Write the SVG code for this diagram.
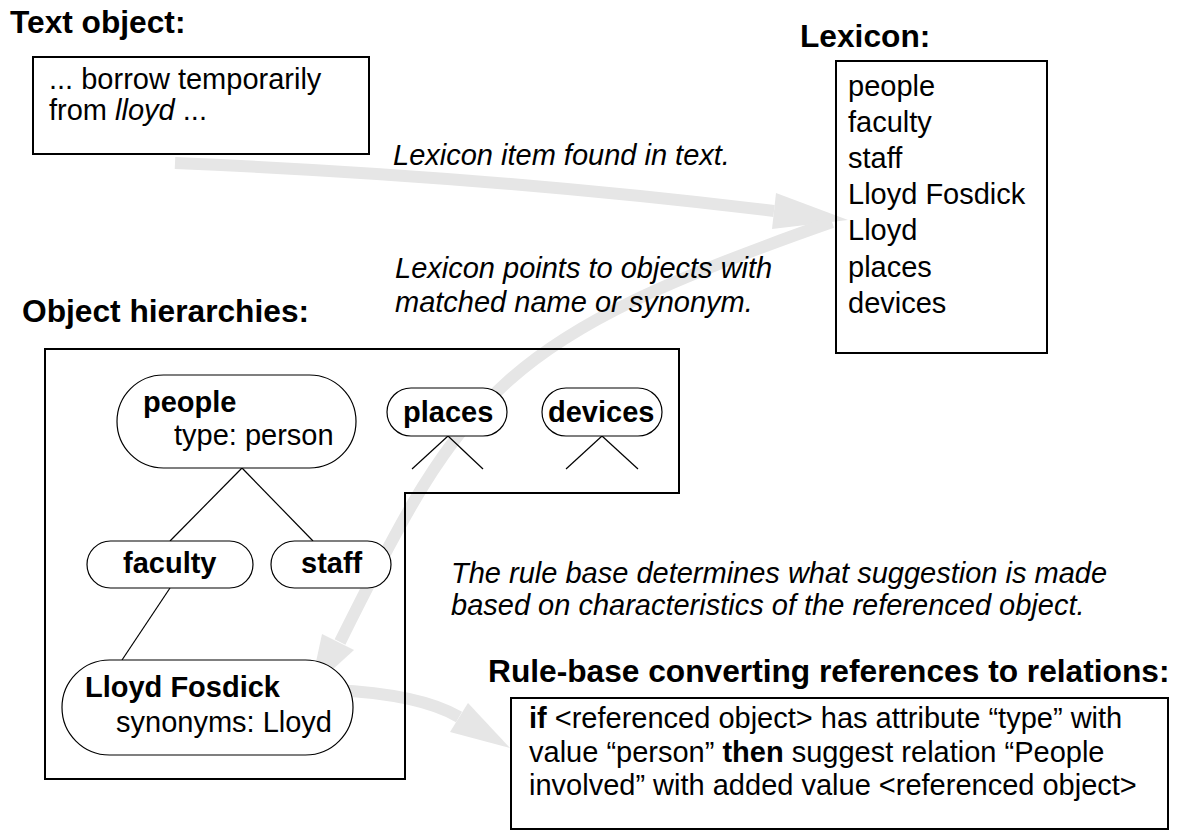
<svg xmlns="http://www.w3.org/2000/svg" width="1180" height="833" viewBox="0 0 1180 833">
<style>
text{font-family:"Liberation Sans",Arial,sans-serif;fill:#000}
.h{font-size:31.7px;font-weight:bold}
.t{font-size:29px}
.i{font-size:29px;font-style:italic}
.nb{font-size:29px;font-weight:bold}
.box{fill:none;stroke:#000;stroke-width:2}
.node{fill:#fff;stroke:#000;stroke-width:1.2}
.ln{stroke:#000;stroke-width:1.2;fill:none}
.arr{fill:none;stroke:#e6e6e6;stroke-width:12}
.ah{fill:#e6e6e6}
</style>
<rect width="1180" height="833" fill="#fff"/>
<g id="connectors">
<path class="arr" d="M175,163 Q486,176 774,211"/>
<polygon class="ah" points="776,193 848,220 772,229"/>
<path class="arr" d="M832,222 C501,338 466,388 340,642"/>
<polygon class="ah" points="322,634 354,650 310,690"/>
<path class="arr" d="M333,690 Q420,694 459,717"/>
<polygon class="ah" points="468,703 510,748 450,732"/>
</g>
<g id="text-object">
<text class="h" x="10" y="33">Text object:</text>
<rect class="box" x="33" y="57" width="336" height="97"/>
<text class="t" x="49" y="89">... borrow temporarily</text>
<text class="t" x="49" y="120">from <tspan font-style="italic">lloyd</tspan> ...</text>
</g>
<g id="label-found">
<text class="i" x="393" y="165">Lexicon item found in text.</text>
</g>
<g id="lexicon">
<text class="h" x="800" y="47">Lexicon:</text>
<rect class="box" x="836" y="61" width="211" height="292"/>
<text class="t" x="848" y="96">people</text>
<text class="t" x="848" y="132">faculty</text>
<text class="t" x="848" y="168">staff</text>
<text class="t" x="848" y="204">Lloyd Fosdick</text>
<text class="t" x="848" y="240">Lloyd</text>
<text class="t" x="848" y="277">places</text>
<text class="t" x="848" y="313">devices</text>
</g>
<g id="label-points">
<text class="i" x="395" y="278">Lexicon points to objects with</text>
<text class="i" x="395" y="312">matched name or synonym.</text>
</g>
<g id="object-hierarchies">
<text class="h" x="22" y="322">Object hierarchies:</text>
<path class="box" d="M45,349 H679 V493 H405 V779 H45 Z"/>
<line class="ln" x1="242" y1="468" x2="170" y2="541"/>
<line class="ln" x1="242" y1="468" x2="313" y2="541"/>
<line class="ln" x1="170" y1="588" x2="122" y2="660"/>
<line class="ln" x1="448" y1="436" x2="412" y2="469"/>
<line class="ln" x1="448" y1="436" x2="483" y2="469"/>
<line class="ln" x1="602" y1="436" x2="566" y2="469"/>
<line class="ln" x1="602" y1="436" x2="638" y2="469"/>
</g>
<g id="node-people">
<rect class="node" x="117" y="375" width="239" height="93" rx="46.5"/>
<text class="nb" x="143" y="412">people</text>
<text class="t" x="174" y="445">type: person</text>
</g>
<g id="node-places">
<rect class="node" x="387" y="388" width="120" height="48" rx="24"/>
<text class="nb" x="403" y="422">places</text>
</g>
<g id="node-devices">
<rect class="node" x="542" y="388" width="120" height="48" rx="24"/>
<text class="nb" x="548" y="422">devices</text>
</g>
<g id="node-faculty">
<rect class="node" x="87" y="541" width="166" height="47" rx="23.5"/>
<text class="nb" x="123" y="573">faculty</text>
</g>
<g id="node-staff">
<rect class="node" x="271" y="541" width="120" height="47" rx="23.5"/>
<text class="nb" x="301" y="573">staff</text>
</g>
<g id="node-lloyd">
<rect class="node" x="62" y="660" width="291" height="95" rx="47.5"/>
<text class="nb" x="85" y="697">Lloyd Fosdick</text>
<text class="t" x="116" y="732">synonyms: Lloyd</text>
</g>
<g id="label-rule">
<text class="i" x="451" y="583">The rule base determines what suggestion is made</text>
<text class="i" x="451" y="615">based on characteristics of the referenced object.</text>
</g>
<g id="rule-base">
<text class="h" x="488" y="682">Rule-base converting references to relations:</text>
<rect class="box" x="511" y="698" width="657" height="131"/>
<text class="t" x="529" y="728"><tspan font-weight="bold">if</tspan> &lt;referenced object&gt; has attribute “type” with</text>
<text class="t" x="529" y="762">value “person” <tspan font-weight="bold">then</tspan> suggest relation “People</text>
<text class="t" x="529" y="795">involved” with added value &lt;referenced object&gt;</text>
</g>
</svg>
